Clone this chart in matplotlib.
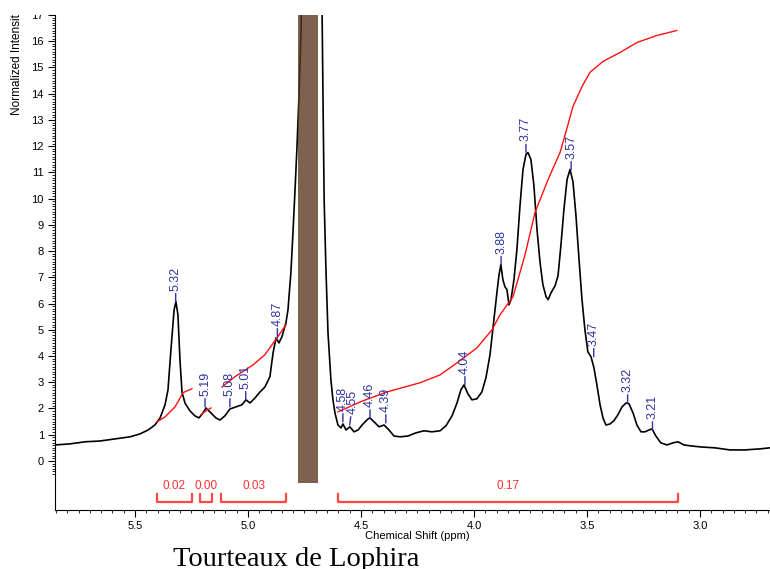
import numpy as np
import matplotlib.pyplot as plt
from matplotlib.patches import Rectangle
from matplotlib.ticker import MultipleLocator, FixedLocator, FormatStrFormatter

plt.rcParams['font.family'] = ['Liberation Sans', 'DejaVu Sans']

# spectrum (ppm, normalized intensity)
shift_ppm = [5.854, 5.788, 5.721, 5.655, 5.588, 5.522, 5.478, 5.442, 5.412, 5.389,
             5.367, 5.354, 5.341, 5.327, 5.319, 5.310, 5.301, 5.292, 5.279, 5.257,
             5.235, 5.217, 5.199, 5.186, 5.164, 5.142, 5.124, 5.102, 5.080, 5.053,
             5.027, 5.009, 4.991, 4.969, 4.947, 4.925, 4.903, 4.889, 4.876, 4.863,
             4.850, 4.832, 4.823, 4.810, 4.801, 4.792, 4.783, 4.774, 4.765, 4.752,
             4.726, 4.681, 4.672, 4.668, 4.663, 4.655, 4.646, 4.633, 4.624, 4.615,
             4.602, 4.588, 4.580, 4.566, 4.549, 4.531, 4.513, 4.491, 4.469, 4.460,
             4.442, 4.420, 4.398, 4.376, 4.354, 4.327, 4.292, 4.257, 4.221, 4.186,
             4.150, 4.124, 4.097, 4.075, 4.058, 4.044, 4.027, 4.009, 3.987, 3.965,
             3.947, 3.929, 3.912, 3.898, 3.889, 3.881, 3.872, 3.863, 3.854, 3.845,
             3.836, 3.823, 3.810, 3.796, 3.783, 3.770, 3.761, 3.748, 3.735, 3.721,
             3.708, 3.695, 3.681, 3.672, 3.659, 3.641, 3.628, 3.615, 3.602, 3.588,
             3.575, 3.562, 3.549, 3.535, 3.522, 3.509, 3.496, 3.482, 3.469, 3.456,
             3.442, 3.429, 3.416, 3.398, 3.381, 3.363, 3.345, 3.327, 3.314, 3.296,
             3.279, 3.261, 3.243, 3.226, 3.212, 3.195, 3.173, 3.146, 3.119, 3.097,
             3.071, 3.036, 2.992, 2.934, 2.867, 2.801, 2.735, 2.690]
intensity = [0.61, 0.65, 0.73, 0.76, 0.84, 0.92, 1.03, 1.18, 1.37, 1.64,
             2.14, 2.71, 4.24, 5.76, 6.07, 5.57, 3.85, 2.63, 2.21, 1.91,
             1.72, 1.64, 1.83, 2.02, 1.83, 1.64, 1.56, 1.72, 1.98, 2.06,
             2.14, 2.33, 2.21, 2.40, 2.63, 2.82, 3.21, 4.12, 4.69, 4.50,
             4.73, 5.27, 5.76, 7.20, 8.70, 10.30, 12.00, 14.00, 16.50, 25.0,
             40.0, 25.0, 17.0, 13.8, 9.96, 7.29, 4.89, 3.09, 2.33, 1.83,
             1.37, 1.26, 1.41, 1.18, 1.30, 1.11, 1.18, 1.41, 1.60, 1.64,
             1.49, 1.30, 1.37, 1.18, 0.95, 0.92, 0.95, 1.07, 1.15, 1.11,
             1.15, 1.34, 1.72, 2.21, 2.71, 2.90, 2.56, 2.33, 2.37, 2.63,
             3.17, 4.05, 5.38, 6.45, 7.10, 7.48, 6.91, 6.64, 6.53, 5.95,
             6.15, 6.91, 8.05, 9.77, 11.11, 11.68, 11.76, 11.49, 10.53, 8.82,
             7.60, 6.72, 6.26, 6.15, 6.41, 6.68, 7.06, 8.24, 9.58, 10.73,
             11.11, 10.65, 9.39, 7.67, 6.15, 5.00, 4.16, 3.97, 3.55, 2.90,
             2.14, 1.64, 1.37, 1.41, 1.53, 1.76, 2.06, 2.21, 2.18, 1.83,
             1.37, 1.11, 1.11, 1.18, 1.22, 0.95, 0.69, 0.61, 0.69, 0.73,
             0.61, 0.57, 0.53, 0.50, 0.42, 0.42, 0.46, 0.50]

# integral curves (red)
int1_ppm = [5.403, 5.367, 5.345, 5.323, 5.305, 5.288, 5.270, 5.248]
int1_val = [1.49, 1.68, 1.87, 2.06, 2.33, 2.60, 2.67, 2.75]
int2_ppm = [5.208, 5.186, 5.164]
int2_val = [1.76, 1.91, 2.02]
int3_ppm = [5.115, 5.058, 4.978, 4.925, 4.872, 4.832]
int3_val = [2.82, 3.21, 3.66, 4.05, 4.69, 5.19]
int4_ppm = [4.602, 4.504, 4.385, 4.239, 4.150, 4.075, 3.987, 3.920, 3.885, 3.827,
            3.774, 3.730, 3.672, 3.619, 3.584, 3.562, 3.522, 3.487, 3.429, 3.354,
            3.279, 3.190, 3.102]
int4_val = [1.87, 2.25, 2.63, 2.98, 3.28, 3.74, 4.31, 5.00, 5.57, 6.26,
            7.86, 9.47, 10.73, 11.76, 12.82, 13.51, 14.27, 14.81, 15.23, 15.57,
            15.95, 16.22, 16.41]

# integration ranges
int_start = [5.403, 5.212, 5.119, 4.602]
int_end = [5.248, 5.159, 4.832, 3.097]
int_text = ["0.02", "0.00", "0.03", "0.17"]

# peak picking labels
peak_text = ["5.32", "5.19", "5.08", "5.01", "4.87", "4.58", "4.55", "4.46",
             "4.39", "4.04", "3.88", "3.77", "3.57", "3.47", "3.32", "3.21"]
peak_height = [6.07, 2.06, 2.06, 2.33, 4.73, 1.49, 1.37, 1.64,
               1.45, 2.90, 7.48, 11.76, 11.10, 3.97, 2.21, 1.18]

water_ppm = (4.690, 4.779)

fig = plt.figure(figsize=(7.7, 5.69), dpi=100)
ax = fig.add_axes([55 / 770, 59 / 569, 715 / 770, 495 / 569])
ax.set_xlim(5.854, 2.690)
ax.set_ylim(-1.87, 17.0)

ax.plot(shift_ppm, intensity, color='black', lw=1.2, zorder=2)
for xp, yv in [(int1_ppm, int1_val), (int2_ppm, int2_val), (int3_ppm, int3_val), (int4_ppm, int4_val)]:
    ax.plot(xp, yv, color='#ff1010', lw=1.0, zorder=3)

# brackets for integrals
for a, b, t in zip(int_start, int_end, int_text):
    ax.plot([a, a, b, b], [-1.26, -1.56, -1.56, -1.26], color='#ff4848', lw=1.6, zorder=3)
    ax.text((a + b) / 2, -0.95, t, ha='center', va='center', color='#ff3030', fontsize=8.5)

# solvent region
ax.add_patch(Rectangle((water_ppm[0], -0.84), water_ppm[1] - water_ppm[0], 30,
                       facecolor='#5b351f', alpha=0.78, lw=0, zorder=4))

blue = '#3030a0'
for t, h in zip(peak_text, peak_height):
    dx = 3 if t == "4.55" else 0
    ax.annotate(t, xy=(float(t), h), xytext=(dx, 11), textcoords='offset pixels',
                rotation=90, ha='center', va='bottom', color=blue, fontsize=9,
                arrowprops=dict(arrowstyle='-', color=blue, lw=1.0, shrinkA=0, shrinkB=0))

for s in ['top', 'right']:
    ax.spines[s].set_visible(False)
ax.xaxis.set_major_locator(MultipleLocator(0.5))
ax.xaxis.set_minor_locator(MultipleLocator(0.05))
ax.xaxis.set_major_formatter(FormatStrFormatter('%.1f'))
ax.yaxis.set_major_locator(FixedLocator(range(0, 18)))
ax.yaxis.set_minor_locator(FixedLocator(np.arange(-0.5, 17.01, 0.1)))
ax.tick_params(which='major', direction='out', length=5, width=0.8, labelsize=8, pad=3)
ax.tick_params(which='minor', direction='out', length=2.5, width=0.6)

fig.text(417 / 770, (569 - 536) / 569, 'Chemical Shift (ppm)', ha='center', va='center', fontsize=8)

# everything above the plot frame is cut off, like in the original
clip = Rectangle((0, 0), 1, 554 / 569, transform=fig.transFigure)
ylab = fig.text(17 / 770, (569 - 115) / 569, 'Normalized Intensity', rotation=90,
                ha='center', va='bottom', fontsize=8.5)
ylab.set_clip_path(clip)

fig.text(173 / 770, 3 / 569, 'Tourteaux de Lophira', family='Liberation Serif',
         fontsize=20.5, ha='left', va='baseline')

fig.canvas.draw()
for lab in ax.yaxis.get_ticklabels():
    lab.set_clip_path(clip)

fig.savefig('out.png', dpi=100, facecolor='white')
